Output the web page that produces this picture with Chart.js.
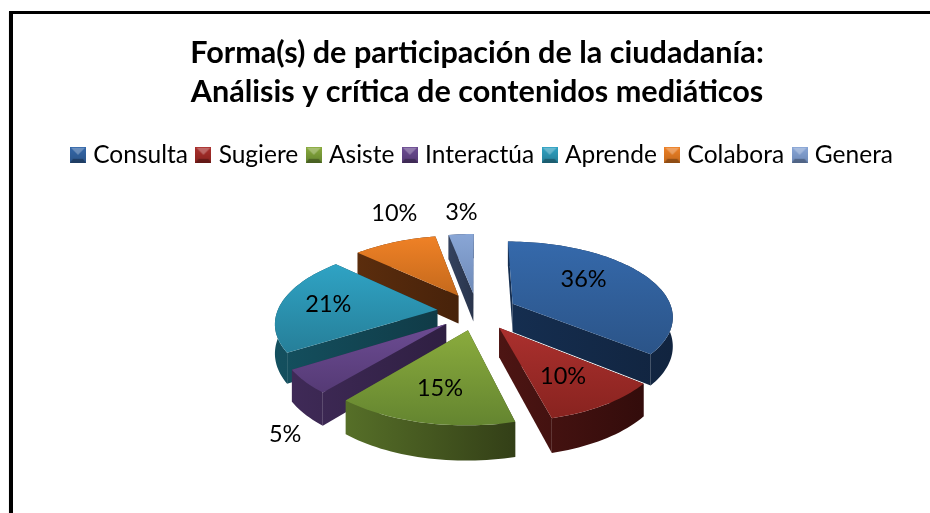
<!DOCTYPE html>
<html><head><meta charset="utf-8">
<style>
html,body{margin:0;padding:0;background:#fff;overflow:hidden;width:930px;height:513px}
#frame{position:absolute;left:9px;top:11px;width:1000px;height:1000px;border:solid #000;border-width:3.5px 0 0 4px;box-shadow:0 1px 1px #bbb}
#wrap{position:absolute;left:0;top:0;width:930px;height:513px}
</style>
<script src="https://cdn.jsdelivr.net/npm/chart.js@4"></script>
</head><body>
<div id="frame"></div>
<div id="wrap"><canvas id="c" width="930" height="513"></canvas></div>
<script>
const titleLines = ['Forma(s) de participación de la ciudadanía:', 'Análisis y crítica de contenidos mediáticos'];
const categories = ['Consulta', 'Sugiere', 'Asiste', 'Interactúa', 'Aprende', 'Colabora', 'Genera'];
const percentages = [36, 10, 15, 5, 21, 10, 3];
const baseColors = ['#2f5f9e', '#9c2c2a', '#76982f', '#5f4383', '#2a8fac', '#db7620', '#7b96c5'];
const topLight = ['#3569ab', '#ab302e', '#8aab3d', '#6c4c93', '#2fa3c4', '#ef8126', '#89a6d6'];
const topDark = ['#2b5488', '#88231f', '#648530', '#553a75', '#267f99', '#c4691c', '#6e8ab8'];
const wallLight = ['#152e50', '#4d1513', '#566f28', '#3f2a57', '#14505f', '#5b2d0d', '#34425e'];
const wallDark = ['#11243f', '#330c0b', '#333f17', '#2f1f42', '#103b47', '#47220a', '#29344b'];
const labelShift = [[71,-24],[64,49],[-28,58],[-161,110],[-109,-5],[-64,-82],[-12,-81]];
const paintOrder = [0, 6, 5, 4, 3, 1, 2];

const FONT = 'Lato';
function legendSwatch(i){
  const s = document.createElement('canvas'); s.width = 16; s.height = 16;
  const g = s.getContext('2d');
  const lg = g.createLinearGradient(0,0,0,16);
  lg.addColorStop(0, topLight[i]); lg.addColorStop(1, topDark[i]);
  g.fillStyle = lg; g.fillRect(0,0,16,16);
  g.fillStyle = 'rgba(255,255,255,.28)';
  g.beginPath(); g.moveTo(1,1); g.lineTo(15,1); g.lineTo(8,8); g.closePath(); g.fill();
  g.fillStyle = 'rgba(0,0,0,.28)';
  g.beginPath(); g.moveTo(0,16); g.lineTo(16,16); g.lineTo(13,12); g.lineTo(3,12); g.closePath(); g.fill();
  return s;
}

const pie3d = {
  id:'pie3d',
  beforeDraw(chart){
    if(!chart.$legendMoved){ chart.legend.left += 7; chart.legend.right += 7; chart.$legendMoved = true; }
  },
  beforeDatasetDraw(chart){
    const ctx = chart.ctx, arcs = chart.getDatasetMeta(0).data;
    const k = 0.154, k2 = 0.15;
    const P = (el,U,V,z)=>{
      const R = el.outerRadius, d = 1 - k*V;
      return [el.x + 1.4286*R*U/d, el.y + 0.6607*R*V/d + z*0.256*R/(1 - k2*V)];
    };
    const poly = (pts,fill)=>{ ctx.beginPath(); pts.forEach((p,i)=> i?ctx.lineTo(p[0],p[1]):ctx.moveTo(p[0],p[1])); ctx.closePath(); ctx.fillStyle=fill; ctx.fill(); };
    ctx.save();
    for(const i of paintOrder){
      const el = arcs[i], e = el.options.offset/el.outerRadius;
      const mid = (el.startAngle+el.endAngle)/2;
      const ox = e*Math.cos(mid), oy = e*Math.sin(mid);
      const rim = z => { const a=[]; const n=Math.max(2,Math.ceil((el.endAngle-el.startAngle)/0.03));
        for(let j=0;j<=n;j++){ const t=el.startAngle+(el.endAngle-el.startAngle)*j/n; a.push(P(el,ox+Math.cos(t),oy+Math.sin(t),z)); } return a; };
      const top = rim(0), bot = rim(1), a0 = P(el,ox,oy,0), a1 = P(el,ox,oy,1);
      const xs = top.concat(bot,[a0,a1]).map(p=>p[0]), ys = top.concat([a0]).map(p=>p[1]);
      const minX=Math.min(...xs), maxX=Math.max(...xs), minY=Math.min(...ys), maxY=Math.max(...ys);
      const wg = ctx.createLinearGradient(minX,0,maxX,0);
      wg.addColorStop(0,wallLight[i]); wg.addColorStop(1,wallDark[i]);
      poly([a0,top[0],bot[0],a1],wg);
      poly([a0,top[top.length-1],bot[bot.length-1],a1],wg);
      poly(top.concat(bot.slice().reverse()),wg);
      const tg = ctx.createLinearGradient(0,minY,0,maxY);
      tg.addColorStop(0,topLight[i]); tg.addColorStop(1,topDark[i]);
      poly([a0].concat(top),tg);
    }
    ctx.fillStyle='#000'; ctx.font='23.5px '+FONT; ctx.textAlign='center'; ctx.textBaseline='middle';
    arcs.forEach((el,i)=>{
      const e = el.options.offset/el.outerRadius, mid=(el.startAngle+el.endAngle)/2;
      const a = P(el,e*Math.cos(mid),e*Math.sin(mid),0);
      ctx.fillText(percentages[i]+'%', a[0]+labelShift[i][0], a[1]+labelShift[i][1]);
    });
    ctx.restore();
    return false;
  }
};

new Chart(document.getElementById('c'),{
  type:'pie',
  data:{labels:categories,datasets:[{data:percentages,backgroundColor:baseColors,borderWidth:0,offset:28,radius:112}]},
  plugins:[pie3d],
  options:{
    responsive:false,animation:false,
    rotation:0,
    layout:{padding:{left:24,right:0,top:14,bottom:67}},
    plugins:{
      tooltip:{enabled:false},
      title:{display:true,text:titleLines,color:'#000',font:{family:FONT,size:30.6,weight:'bold',lineHeight:1.275},padding:{top:20,bottom:18}},
      legend:{position:'top',labels:{color:'#000',font:{family:FONT,size:24.5},usePointStyle:true,pointStyleWidth:6,boxHeight:24,padding:12.5,
        generateLabels(chart){return categories.map((t,i)=>({text:t,fillStyle:baseColors[i],strokeStyle:baseColors[i],lineWidth:0,pointStyle:legendSwatch(i),index:i,hidden:false}));}
      }}
    }
  }
});
</script>
</body></html>
